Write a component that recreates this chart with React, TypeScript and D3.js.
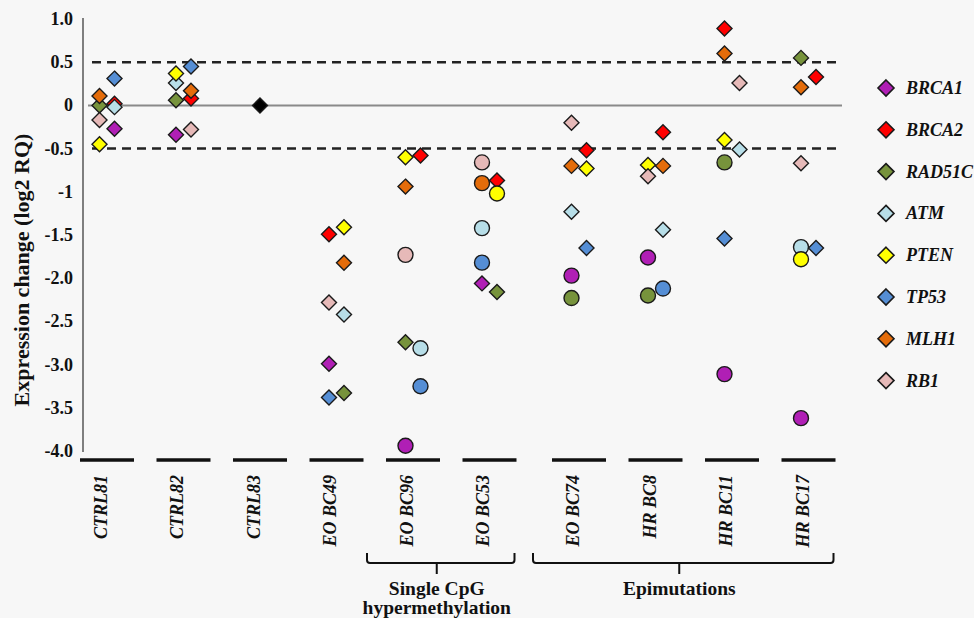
import React from "react";
import * as d3 from "d3";

const categories = ["CTRL81", "CTRL82", "CTRL83", "EO BC49", "EO BC96", "EO BC53", "EO BC74", "HR BC8", "HR BC11", "HR BC17"];
const genes = ["BRCA1", "BRCA2", "RAD51C", "ATM", "PTEN", "TP53", "MLH1", "RB1"];
const geneColors = ["#b01fb5", "#ff0000", "#77933c", "#b7dee8", "#ffff00", "#558ed5", "#e46c0a", "#e6b9b8"];
const yTicks = [1, 0.5, 0, -0.5, -1, -1.5, -2, -2.5, -3, -3.5, -4];
const yTickLabels = ["1.0", "0.5", "0", "-0.5", "-1", "-1.5", "-2.0", "-2.5", "-3.0", "-3.5", "-4.0"];
const thresholds = [0.5, -0.5];

// [gene, log2 RQ, marker ("d" diamond, "c" circle), column (0 left, 1 right)]
const CTRL81 = [["MLH1", 0.11, "d", 0], ["RAD51C", 0.0, "d", 0], ["RB1", -0.17, "d", 0], ["PTEN", -0.45, "d", 0], ["TP53", 0.31, "d", 1], ["BRCA2", 0.02, "d", 1], ["ATM", -0.02, "d", 1], ["BRCA1", -0.27, "d", 1]];
const CTRL82 = [["PTEN", 0.37, "d", 0], ["ATM", 0.26, "d", 0], ["RAD51C", 0.06, "d", 0], ["BRCA1", -0.34, "d", 0], ["TP53", 0.45, "d", 1], ["MLH1", 0.17, "d", 1], ["BRCA2", 0.08, "d", 1], ["RB1", -0.28, "d", 1]];
const CTRL83 = [["REF", 0.0, "d", 0.5]];
const EOBC49 = [["BRCA2", -1.49, "d", 0], ["PTEN", -1.41, "d", 1], ["MLH1", -1.82, "d", 1], ["RB1", -2.28, "d", 0], ["ATM", -2.42, "d", 1], ["BRCA1", -2.99, "d", 0], ["TP53", -3.38, "d", 0], ["RAD51C", -3.33, "d", 1]];
const EOBC96 = [["PTEN", -0.6, "d", 0], ["BRCA2", -0.58, "d", 1], ["MLH1", -0.94, "d", 0], ["RB1", -1.73, "c", 0], ["RAD51C", -2.74, "d", 0], ["ATM", -2.81, "c", 1], ["TP53", -3.25, "c", 1], ["BRCA1", -3.94, "c", 0]];
const EOBC53 = [["RB1", -0.66, "c", 0], ["MLH1", -0.9, "c", 0], ["BRCA2", -0.87, "d", 1], ["PTEN", -1.02, "c", 1], ["ATM", -1.42, "c", 0], ["TP53", -1.82, "c", 0], ["BRCA1", -2.06, "d", 0], ["RAD51C", -2.16, "d", 1]];
const EOBC74 = [["RB1", -0.2, "d", 0], ["BRCA2", -0.52, "d", 1], ["MLH1", -0.7, "d", 0], ["PTEN", -0.73, "d", 1], ["ATM", -1.23, "d", 0], ["TP53", -1.65, "d", 1], ["BRCA1", -1.97, "c", 0], ["RAD51C", -2.23, "c", 0]];
const HRBC8 = [["BRCA2", -0.31, "d", 1], ["PTEN", -0.69, "d", 0], ["MLH1", -0.7, "d", 1], ["RB1", -0.82, "d", 0], ["ATM", -1.44, "d", 1], ["BRCA1", -1.76, "c", 0], ["RAD51C", -2.2, "c", 0], ["TP53", -2.12, "c", 1]];
const HRBC11 = [["BRCA2", 0.89, "d", 0], ["MLH1", 0.6, "d", 0], ["RB1", 0.26, "d", 1], ["PTEN", -0.4, "d", 0], ["ATM", -0.51, "d", 1], ["RAD51C", -0.66, "c", 0], ["TP53", -1.54, "d", 0], ["BRCA1", -3.11, "c", 0]];
const HRBC17 = [["RAD51C", 0.55, "d", 0], ["BRCA2", 0.33, "d", 1], ["MLH1", 0.21, "d", 0], ["RB1", -0.67, "d", 0], ["ATM", -1.64, "c", 0], ["TP53", -1.65, "d", 1], ["PTEN", -1.78, "c", 0], ["BRCA1", -3.62, "c", 0]];
const sampleData = [CTRL81, CTRL82, CTRL83, EOBC49, EOBC96, EOBC53, EOBC74, HRBC8, HRBC11, HRBC17];

const groups = [
  { label: ["Single CpG", "hypermethylation"], from: "EO BC96", to: "EO BC53" },
  { label: ["Epimutations"], from: "EO BC74", to: "HR BC17" },
];

const FONT = "'Liberation Serif', 'Times New Roman', serif";

export default function App() {
  const W = 974, H = 618;
  const gapAfter = categories.indexOf("EO BC74");
  const slot = (c: string) => {
    const i = categories.indexOf(c);
    return i + (i >= gapAfter ? 0.17 : 0);
  };
  const x = d3.scaleLinear().domain([0, slot("HR BC17")]).range([107, 808.5]);
  const side = d3.scaleLinear().domain([0, 1]).range([-7.5, 7.5]);
  const y = d3.scaleLinear().domain([-4, 1]).range([451, 19]);
  const color = d3.scaleOrdinal<string, string>().domain(genes).range(geneColors).unknown("#000000");

  const points = sampleData.flatMap((arr, si) =>
    arr.map((p) => ({ sample: categories[si], gene: p[0] as string, v: p[1] as number, m: p[2] as string, col: p[3] as number }))
  );
  points.sort((a, b) => genes.indexOf(a.gene) - genes.indexOf(b.gene));

  const diamond = (cx: number, cy: number, r: number) => `M${cx},${cy - r}L${cx + r},${cy}L${cx},${cy + r}L${cx - r},${cy}Z`;

  const plotL = 88, plotR = 842;

  return (
    <svg width={W} height={H} style={{ position: "absolute", left: 0, top: 0, background: "#f7f7f7" }} fontFamily={FONT}>
      <rect x={0} y={0} width={W} height={H} fill="#f7f7f7" />
      {/* y axis */}
      <line x1={83} x2={83} y1={y(1) - 1} y2={y(-4) + 1} stroke="#7f7f7f" strokeWidth={2} />
      {yTicks.map((t, i) => (
        <text key={t} x={73} y={y(t)} textAnchor="end" dominantBaseline="central" fontSize={18} fontWeight="bold" fill="#111">
          {yTickLabels[i]}
        </text>
      ))}
      <text transform={`translate(29,270) rotate(-90)`} textAnchor="middle" fontSize={22} fontWeight="bold" fill="#111">
        Expression change (log2 RQ)
      </text>
      {/* zero line and thresholds */}
      <line x1={plotL} x2={plotR} y1={y(0)} y2={y(0)} stroke="#8a8a8a" strokeWidth={2} />
      {thresholds.map((t) => (
        <line key={t} x1={92} x2={840} y1={y(t)} y2={y(t)} stroke="#222" strokeWidth={2.5} strokeDasharray="9 6" />
      ))}
      {/* category segments */}
      {categories.map((c) => (
        <line key={c} x1={x(slot(c)) - 27} x2={x(slot(c)) + 27} y1={460} y2={460} stroke="#111" strokeWidth={3.5} />
      ))}
      {/* category labels */}
      {categories.map((c) => (
        <text key={c} transform={`translate(${x(slot(c))},475) rotate(-90)`} textAnchor="end" fontSize={18} fontWeight="bold" fontStyle="italic" fill="#111">
          {c}
        </text>
      ))}
      {/* group brackets */}
      {groups.map((g) => {
        const x0 = x(slot(g.from)) - 46;
        const x1 = x(slot(g.to)) + 25;
        const xm = (x0 + x1) / 2 - 4;
        return (
          <g key={g.label[0]}>
            <path d={`M${x0},553V560Q${x0},563 ${x0 + 3},563H${x1 - 3}Q${x1},563 ${x1},560V553M${xm},563V574`} fill="none" stroke="#111" strokeWidth={2} />
            {g.label.map((l, i) => (
              <text key={l} x={xm} y={595 + i * 19} textAnchor="middle" fontSize={19.5} fontWeight="bold" fill="#111">
                {l}
              </text>
            ))}
          </g>
        );
      })}
      {/* points */}
      {points.map((p, i) => {
        const cx = x(slot(p.sample)) + side(p.col);
        const cy = y(p.v);
        return p.m === "c" ? (
          <circle key={i} cx={cx} cy={cy} r={7.5} fill={color(p.gene)} stroke="#1a1a1a" strokeWidth={1.4} />
        ) : (
          <path key={i} d={diamond(cx, cy, 7.5)} fill={color(p.gene)} stroke="#1a1a1a" strokeWidth={1.4} />
        );
      })}
      {/* legend */}
      {genes.map((g, i) => {
        const ly = 88 + i * 41.8;
        return (
          <g key={g}>
            <path d={diamond(886, ly, 8)} fill={color(g)} stroke="#1a1a1a" strokeWidth={1.6} />
            <text x={906} y={ly} dominantBaseline="central" fontSize={18} fontWeight="bold" fontStyle="italic" fill="#111">
              {g}
            </text>
          </g>
        );
      })}
    </svg>
  );
}
